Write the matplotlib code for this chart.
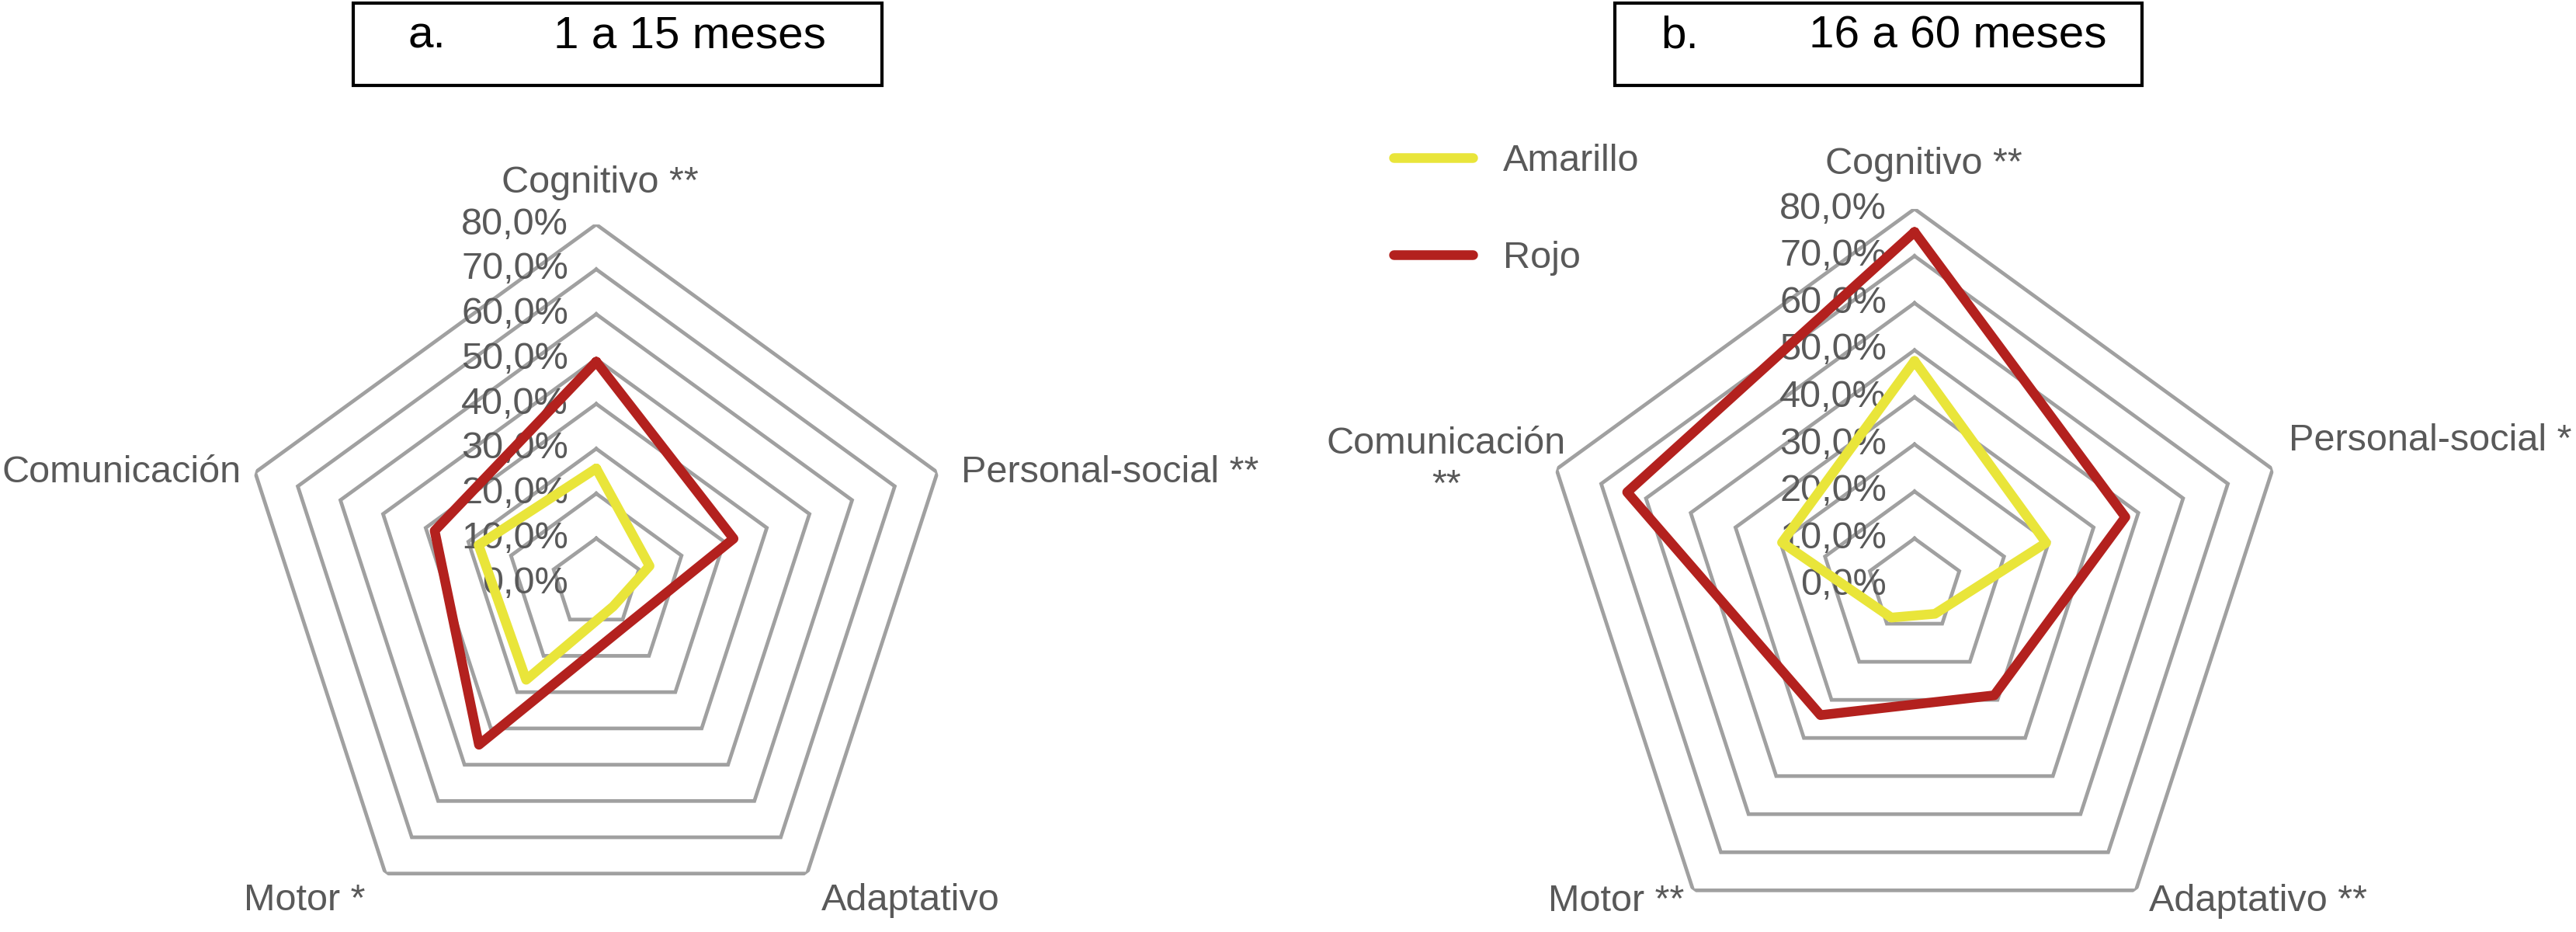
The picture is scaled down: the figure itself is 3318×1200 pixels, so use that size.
import numpy as np
import matplotlib.pyplot as plt
from matplotlib.patches import Rectangle

plt.rcParams['font.family'] = ['Liberation Sans', 'DejaVu Sans']

# data (percent)
categories = ['Cognitivo', 'Personal-social', 'Adaptativo', 'Motor', 'Comunicación']
labels_a = ['Cognitivo **', 'Personal-social **', 'Adaptativo', 'Motor *', 'Comunicación']
labels_b = ['Cognitivo **', 'Personal-social *', 'Adaptativo **', 'Motor **', 'Comunicación\n**']

amarillo_a = [25.6, 12.5, 6.4, 26.6, 27.6]
rojo_a = [49.4, 32.2, 11.5, 44.5, 37.9]
amarillo_b = [47.7, 29.4, 7.4, 8.4, 29.6]
rojo_b = [75.1, 47.1, 28.8, 34.0, 64.2]

ticks = [0, 10, 20, 30, 40, 50, 60, 70, 80]

GRAY_TXT = '#595959'
GRAY_GRID = '#A0A0A0'
YELLOW = '#E9E53A'
RED = '#B3211E'

W, H = 3318, 1200
fig = plt.figure(figsize=(W / 100, H / 100), dpi=100)


def make_ax(cx, cy, r):
    # cx, cy, r in pixels (y from top)
    rect = [(cx - r) / W, (H - cy - r) / H, 2 * r / W, 2 * r / H]
    ax = fig.add_axes(rect, projection='polar')
    ax.set_theta_offset(np.pi / 2)
    ax.set_theta_direction(-1)
    ax.set_ylim(0, 80)
    ax.set_axis_off()
    return ax


def draw_panel(ax, amarillo, rojo, labels, offsets):
    theta = np.linspace(0, 2 * np.pi, len(categories), endpoint=False)
    th = np.append(theta, theta[0])
    for t in ticks[1:]:
        ax.plot(th, [t] * len(th), color=GRAY_GRID, lw=3.4,
                solid_joinstyle='miter', zorder=1)
    la, = ax.plot(th, amarillo + amarillo[:1], color=YELLOW, lw=9,
                  solid_joinstyle='round', solid_capstyle='round', zorder=3)
    lr, = ax.plot(th, rojo + rojo[:1], color=RED, lw=9,
                  solid_joinstyle='round', solid_capstyle='round', zorder=4)
    for t in ticks:
        ax.annotate('{:.1f}%'.format(t).replace('.', ','), xy=(0, t),
                    xytext=(-36, 0), textcoords='offset pixels',
                    ha='right', va='center', fontsize=35, color=GRAY_TXT,
                    annotation_clip=False, zorder=2)
    for ang, lab, (dx, dy, ha) in zip(theta, labels, offsets):
        ax.annotate(lab, xy=(ang, 80), xytext=(dx, dy), textcoords='offset pixels',
                    ha=ha, va='center', multialignment='center', fontsize=35,
                    color=GRAY_TXT, annotation_clip=False, linespacing=1.25)
    return la, lr


ax_a = make_ax(768, 751, 462)
ax_b = make_ax(2466, 754, 485)

offs_a = [(5, 54, 'center'), (31, 0, 'left'), (18, -35, 'left'),
          (-26, -35, 'right'), (-18, 0, 'right')]
offs_b = [(12, 57, 'center'), (21, 37, 'left'), (17, -14, 'left'),
          (-12, -14, 'right'), (-142, 6, 'center')]

draw_panel(ax_a, amarillo_a, rojo_a, labels_a, offs_a)
la, lr = draw_panel(ax_b, amarillo_b, rojo_b, labels_b, offs_b)

# title boxes
for (x0, x1), (tx1, tx2), t1, t2 in [((455, 1136), (526, 713), 'a.', '1 a 15 meses'),
                                     ((2080, 2759), (2139, 2330), 'b.', '16 a 60 meses')]:
    fig.add_artist(Rectangle((x0 / W, 1 - 110 / H), (x1 - x0) / W, 106 / H,
                             transform=fig.transFigure, fill=False, lw=3, ec='black'))
    fig.text(tx1 / W, 1 - 61 / H, t1, fontsize=42, va='baseline', color='black')
    fig.text(tx2 / W, 1 - 61 / H, t2, fontsize=42, va='baseline', color='black')

fig.legend(handles=[la, lr], labels=['Amarillo', 'Rojo'], loc='center left',
           bbox_to_anchor=(1795 / W, 1 - 270 / H), frameon=False, fontsize=35,
           handlelength=2.1, handletextpad=0.8, labelspacing=1.65,
           labelcolor=GRAY_TXT, borderaxespad=0, borderpad=0)

fig.savefig('out.png', dpi=100, facecolor='white')
